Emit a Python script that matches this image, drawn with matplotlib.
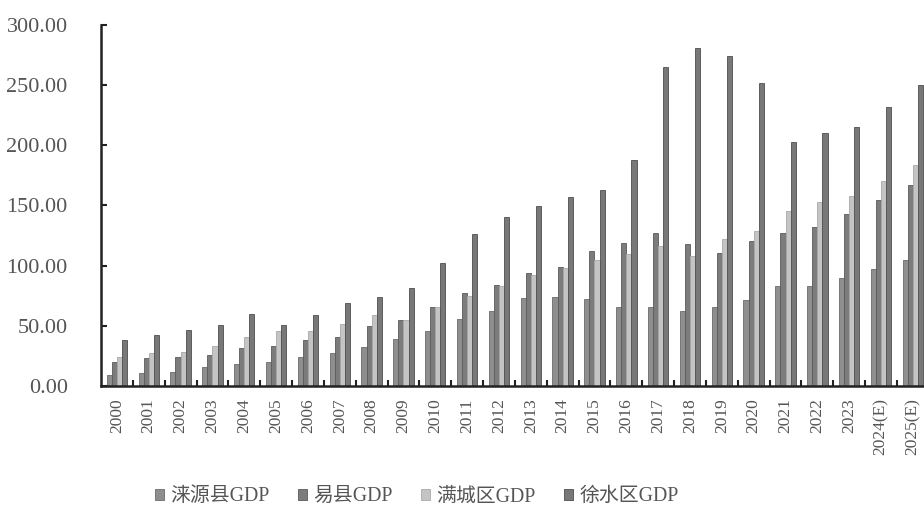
import numpy as np
import matplotlib
matplotlib.use('Agg')
import matplotlib.pyplot as plt

plt.rcParams['font.family'] = ['Liberation Serif', 'Noto Sans CJK SC', 'DejaVu Sans']

# 年份与四个区县的 GDP（亿元）
years = ['2000', '2001', '2002', '2003', '2004', '2005', '2006', '2007', '2008',
         '2009', '2010', '2011', '2012', '2013', '2014', '2015', '2016', '2017',
         '2018', '2019', '2020', '2021', '2022', '2023', '2024(E)', '2025(E)']
laiyuan = [9, 11, 11.4, 15.5, 18, 20, 24.4, 27, 32, 39, 46, 56, 62, 72.8, 74,
           72, 66, 65.5, 62, 65.5, 71.7, 83, 83, 90, 97, 105]
yixian = [20, 23, 24, 25.5, 31.7, 32.8, 38, 41, 50, 55, 66, 77, 84, 93.6, 99,
          112, 118.6, 127, 118, 110.5, 120.5, 127, 132, 143, 154.5, 167]
mancheng = [24, 27, 28.6, 32.8, 40.5, 46, 45.8, 51.7, 58.6, 55, 66, 74.5, 83,
            92, 98, 105, 110, 116, 108, 122, 129, 145, 153, 157.7, 170, 184]
xushui = [38, 42.5, 46.7, 51, 60, 51, 59, 69, 73.6, 81, 102, 126, 140.6, 149.4,
          157, 163, 187.5, 265, 281, 274, 252, 203, 210, 215, 232, 250]

names = ['涞源县GDP', '易县GDP', '满城区GDP', '徐水区GDP']
colors = ['#8e8e8e', '#7c7c7c', '#c4c4c4', '#787878']
edges = ['#6a6a6a', '#5a5a5a', '#a8a8a8', '#4e4e4e']
series = [laiyuan, yixian, mancheng, xushui]

fig = plt.figure(figsize=(9.24, 5.16), dpi=100)
ax = fig.add_axes([0.1093, 0.252, 0.8907, 0.6996])

x = np.arange(len(years))
w = 0.16
for i, (vals, c, ec, nm) in enumerate(zip(series, colors, edges, names)):
    ax.bar(x + (i - 1.5) * w, vals, width=w, color=c, edgecolor=ec,
           linewidth=0.6, label=nm)

ax.set_xlim(-0.5, 25.35)
ax.set_ylim(0, 300)
ax.set_yticks(np.arange(0, 301, 50))
ax.set_yticklabels([f'{v:.2f}' for v in np.arange(0, 301, 50)],
                   fontsize=16, color='#555555')
ax.set_xticks(x)
ax.set_xticklabels(years, rotation=90, fontsize=12.5, color='#555555')
ax.set_xticks(x[:-1] + 0.5, minor=True)
ax.tick_params(axis='x', which='major', length=0, pad=9)
ax.tick_params(axis='x', which='minor', direction='in', length=4, width=1.5,
               color='#222222')
ax.tick_params(axis='y', direction='in', length=4, width=1.5, color='#222222',
               pad=24)

for s in ['top', 'right']:
    ax.spines[s].set_visible(False)
for s in ['left', 'bottom']:
    ax.spines[s].set_linewidth(1.8)
    ax.spines[s].set_color('#222222')

leg = fig.legend(loc='center', bbox_to_anchor=(0.451, 0.037), ncol=4,
                 frameon=False, fontsize=14.3, handlelength=0.45,
                 handleheight=0.45, handletextpad=0.35, columnspacing=1.4)
for t in leg.get_texts():
    t.set_color('#555555')

fig.savefig('out.png', dpi=100)
